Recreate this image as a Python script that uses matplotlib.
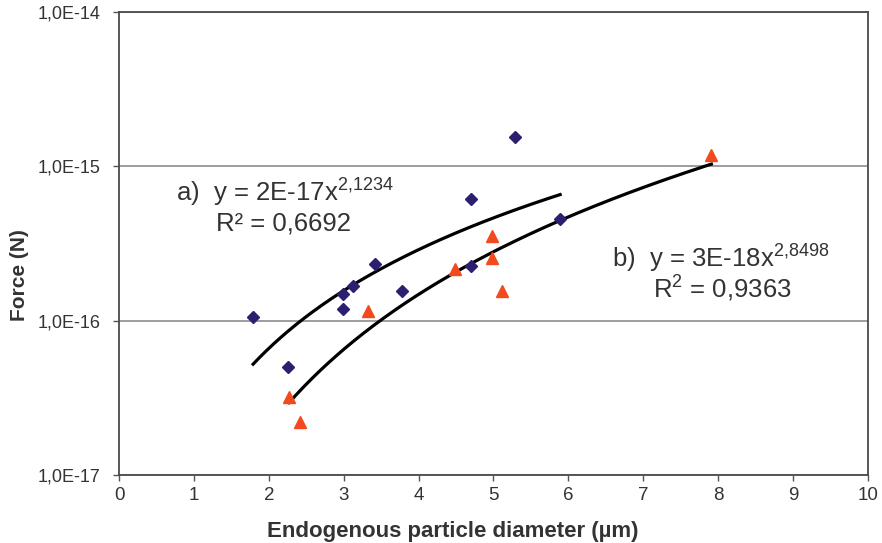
import numpy as np
import matplotlib
matplotlib.use("Agg")
import matplotlib.pyplot as plt
from matplotlib.ticker import FixedLocator, FixedFormatter

plt.rcParams['font.family'] = ['Liberation Sans', 'DejaVu Sans']
plt.rcParams['mathtext.fontset'] = 'custom'
plt.rcParams['mathtext.rm'] = 'Liberation Sans'
plt.rcParams['mathtext.it'] = 'Liberation Sans'

# series a (diamonds)
dia_x = [1.79, 2.25, 2.99, 2.99, 3.13, 3.42, 3.78, 4.70, 4.70, 5.29, 5.89]
dia_y = [1.06e-16, 5.0e-17, 1.19e-16, 1.48e-16, 1.68e-16, 2.32e-16,
         1.56e-16, 6.14e-16, 2.27e-16, 1.56e-15, 4.55e-16]

# series b (triangles)
tri_x = [2.27, 2.42, 3.32, 4.49, 4.98, 4.98, 5.11, 7.91]
tri_y = [3.21e-17, 2.21e-17, 1.15e-16, 2.16e-16, 3.53e-16, 2.56e-16,
         1.56e-16, 1.18e-15]

# power-law trendlines (coefficient, exponent, x-range)
fit_a = (1.52e-17, 2.1234, 1.79, 5.89)
fit_b = (2.85e-18, 2.8498, 2.27, 7.91)

y_ticks = [1e-17, 1e-16, 1e-15, 1e-14]
y_labels = ["1,0E-17", "1,0E-16", "1,0E-15", "1,0E-14"]
x_ticks = list(range(0, 11))

fig = plt.figure(figsize=(8.82, 5.43), dpi=100)
ax = fig.add_axes([0.135, 0.125, 0.849, 0.853])

ax.set_yscale('log')
ax.set_xlim(0, 10)
ax.set_ylim(1e-17, 1e-14)
ax.yaxis.set_major_locator(FixedLocator(y_ticks))
ax.yaxis.set_major_formatter(FixedFormatter(y_labels))
ax.yaxis.set_minor_locator(FixedLocator([]))
ax.set_xticks(x_ticks)
ax.grid(axis='y', color='#8c8c8c', linewidth=1.2)
ax.set_axisbelow(True)
for s in ax.spines.values():
    s.set_color('#4a4a4a')
    s.set_linewidth(1.3)
ax.tick_params(axis='y', colors='#555555', labelcolor='#333333',
               labelsize=13, length=4.5, width=1.0, pad=9)
ax.tick_params(axis='x', colors='#555555', labelcolor='#333333',
               labelsize=13.5, length=4.5, width=1.0, pad=4)

for c, e, x0, x1 in (fit_a, fit_b):
    xs = np.linspace(x0, x1, 200)
    ax.plot(xs, c * xs ** e, color='black', linewidth=2.3, zorder=2)

ax.plot(dia_x, dia_y, linestyle='none', marker='D', markersize=6,
        color='#2b1f70', zorder=3, clip_on=False)
ax.plot(tri_x, tri_y, linestyle='none', marker='^', markersize=8,
        color='#f24a1e', zorder=3, clip_on=False)

ax.set_xlabel("Endogenous particle diameter (µm)", fontsize=16,
              fontweight='bold', color='#333333')
ax.set_ylabel("Force (N)", fontsize=15, fontweight='bold', color='#333333')
ax.xaxis.set_label_coords(0.446, -0.100)
ax.yaxis.set_label_coords(-0.12, 0.432)

txt = dict(fontsize=18.5, color='#333333', transform=fig.transFigure)
fig.text(176 / 882, 1 - 202 / 543, "a)  y = 2E-17x$^{2{,}1234}$", **txt)
fig.text(216 / 882, 1 - 230 / 543, "R² = 0,6692", **txt)
fig.text(612 / 882, 1 - 268 / 543, "b)  y = 3E-18x$^{2{,}8498}$", **txt)
fig.text(653 / 882, 1 - 298 / 543, "R$^2$ = 0,9363", **txt)

fig.savefig("out.png", dpi=100)
